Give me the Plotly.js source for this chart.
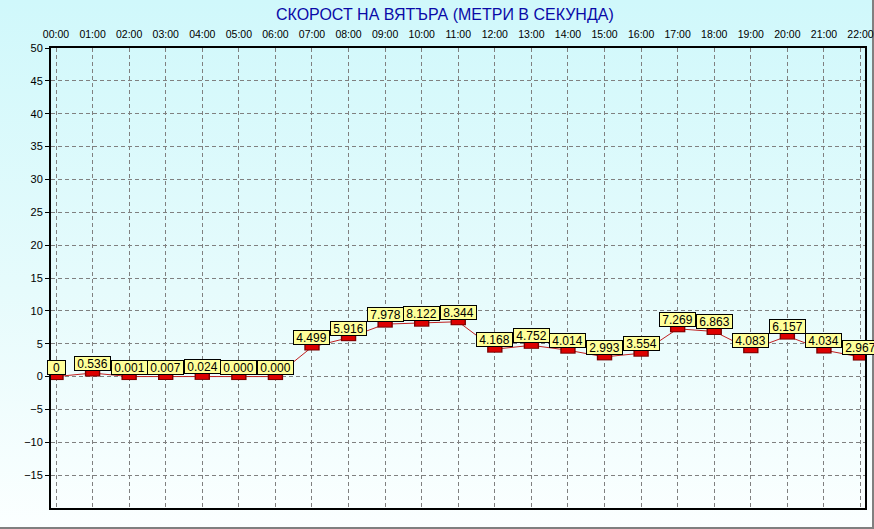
<!DOCTYPE html>
<html>
<head>
<meta charset="utf-8">
<script src="https://cdn.plot.ly/plotly-3.0.1.min.js"></script>
<style>
  html, body { margin: 0; padding: 0; background: #ffffff; }
  #frame {
    position: absolute; left: 0; top: 0;
    width: 872px; height: 527px;
    border-right: 2px solid #808080; border-bottom: 2px solid #808080;
    background: linear-gradient(to bottom, #d0f8fb 0%, #e6fbfc 55%, #fbffff 100%);
  }
  #chart { position: absolute; left: 0; top: 0; width: 874px; height: 529px; }
</style>
</head>
<body>
<div id="frame"></div>
<div id="chart"></div>
<script>
// ---- data ----
var hours = ["00:00","01:00","02:00","03:00","04:00","05:00","06:00","07:00","08:00","09:00","10:00","11:00",
             "12:00","13:00","14:00","15:00","16:00","17:00","18:00","19:00","20:00","21:00","22:00"];
var windSpeed = [0, 0.536, 0.001, 0.007, 0.024, 0.000, 0.000, 4.499, 5.916, 7.978, 8.122, 8.344,
                 4.168, 4.752, 4.014, 2.993, 3.554, 7.269, 6.863, 4.083, 6.157, 4.034, 2.967];
var pointLabels = ["0","0.536","0.001","0.007","0.024","0.000","0.000","4.499","5.916","7.978","8.122","8.344",
                   "4.168","4.752","4.014","2.993","3.554","7.269","6.863","4.083","6.157","4.034","2.967"];
var yTicks = [-15, -10, -5, 0, 5, 10, 15, 20, 25, 30, 35, 40, 45, 50];
var titleText = "СКОРОСТ НА ВЯТЪРА (МЕТРИ В СЕКУНДА)";

// ---- chart ----
var FONT = "Arial, 'Liberation Sans', sans-serif";

var traces = [
  {
    x: hours, y: windSpeed, type: "scatter", mode: "lines",
    line: { color: "#c02020", width: 1 },
    hoverinfo: "skip", showlegend: false
  },
  {
    x: hours, y: windSpeed, type: "scatter", mode: "markers",
    marker: { symbol: "line-ew", size: 11, color: "#7a0000", line: { color: "#7a0000", width: 7 } },
    hoverinfo: "skip", showlegend: false
  },
  {
    x: hours, y: windSpeed, type: "scatter", mode: "markers",
    marker: { symbol: "line-ew", size: 9, color: "#dd0000", line: { color: "#dd0000", width: 5 } },
    hoverinfo: "skip", showlegend: false
  }
];

var annotations = hours.map(function (h, i) {
  var txt = pointLabels[i];
  var w = Math.max(15, txt.replace(".", "").length * 6.7 + (txt.indexOf(".") >= 0 ? 3.3 : 0) + 3);
  return {
    x: h, y: windSpeed[i], xref: "x", yref: "y",
    text: txt, showarrow: false,
    xanchor: "center", yanchor: "bottom", yshift: 2,
    width: w, height: 11,
    bgcolor: "#ffff99", bordercolor: "#000000", borderwidth: 1, borderpad: 1,
    font: { family: FONT, size: 12, color: "#000000" }
  };
});

var layout = {
  width: 874, height: 529,
  margin: { l: 51, r: 9, t: 48, b: 21, pad: 0 },
  paper_bgcolor: "rgba(0,0,0,0)",
  plot_bgcolor: "rgba(0,0,0,0)",
  title: {
    text: titleText,
    font: { family: FONT, size: 16, color: "#0a0aa8" },
    xref: "container", yref: "container",
    x: 0.509, xanchor: "center", y: 0.973, yanchor: "middle"
  },
  xaxis: {
    type: "category", side: "top",
    range: [-0.137, 22.123],
    tickvals: hours, ticktext: hours,
    ticks: "", ticklabelstandoff: 4,
    tickfont: { family: FONT, size: 10.5, color: "#000000" },
    showgrid: true, gridcolor: "#808080", gridwidth: 1, griddash: "4px,3px",
    showline: true, linecolor: "#000000", linewidth: 2, mirror: true,
    zeroline: false, fixedrange: true
  },
  yaxis: {
    range: [-20, 50],
    tickvals: yTicks,
    ticks: "outside", ticklen: 4, tickcolor: "#000000", tickwidth: 1,
    tickfont: { family: FONT, size: 11, color: "#000000" },
    showgrid: true, gridcolor: "#808080", gridwidth: 1, griddash: "4px,3px",
    showline: true, linecolor: "#000000", linewidth: 2, mirror: true,
    zeroline: false, fixedrange: true
  },
  annotations: annotations,
  showlegend: false
};

Plotly.newPlot("chart", traces, layout, { displayModeBar: false, staticPlot: true });
</script>
</body>
</html>
